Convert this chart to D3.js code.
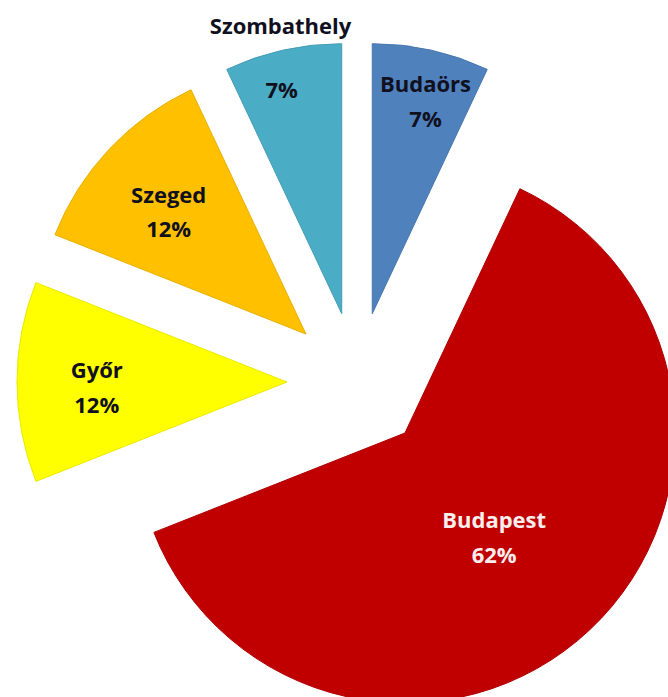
<!DOCTYPE html>
<html>
<head>
<meta charset="utf-8">
<script src="https://cdn.jsdelivr.net/npm/d3@7"></script>
<style>
  html, body { margin: 0; padding: 0; background: #fff; }
  svg { display: block; }
  .lbl { font-family: "Open Sans", "Noto Sans", sans-serif; font-weight: 700; font-size: 22px; }
</style>
</head>
<body>
<div id="chart"></div>
<script>
// data
const cities = ["Budaörs", "Budapest", "Győr", "Szeged", "Szombathely"];
const shares = [7, 62, 12, 12, 7];

const sliceColors = ["#4F81BD", "#C00000", "#FFFF00", "#FFC000", "#4BACC6"];
const textColors  = ["#10101e", "#fbeeee", "#10101e", "#10101e", "#10101e"];

// label spot: fraction of radius along bisector, plus small angle nudge (deg)
const labelSpot = [
  {k: 0.81, da: 1.5},
  {k: 0.51, da: 2.8},
  {k: 0.705, da: -1.75},
  {k: 0.68, da: -1.6},
  {k: 0.856, da: -2.45}
];
// names that sit outside the slice instead of inside
const outsideName = {"Szombathely": {k: 1.09, da: 0.6}};

const width = 668, height = 697;
const cx = 357, cy = 382;
const radius = 270, explode = 70;
const lineGap = 34.5;

const svg = d3.select("#chart").append("svg")
  .attr("width", width)
  .attr("height", height);

const pie = d3.pie().sort(null).value(d => d.value);
const arc = d3.arc().innerRadius(0).outerRadius(radius);

const data = cities.map((c, i) => ({name: c, value: shares[i], i: i}));
const arcs = pie(data);

const polar = (a, r) => [r * Math.sin(a), -r * Math.cos(a)];

const g = svg.append("g").attr("transform", `translate(${cx},${cy})`);

const slice = g.selectAll("g.slice")
  .data(arcs)
  .enter().append("g")
  .attr("class", "slice")
  .attr("transform", d => {
    const mid = (d.startAngle + d.endAngle) / 2;
    const [dx, dy] = polar(mid, explode);
    return `translate(${dx},${dy})`;
  });

slice.append("path")
  .attr("d", arc)
  .attr("fill", d => sliceColors[d.data.i])
  .attr("stroke", d => d3.color(sliceColors[d.data.i]).darker(0.25))
  .attr("stroke-width", 1);

slice.each(function(d) {
  const sel = d3.select(this);
  const mid = (d.startAngle + d.endAngle) / 2;
  const spot = labelSpot[d.data.i];
  const [lx, ly] = polar(mid + spot.da * Math.PI / 180, spot.k * radius);
  const fill = textColors[d.data.i];
  const pct = d.data.value + "%";
  const out = outsideName[d.data.name];

  if (out) {
    const [nx, ny] = polar(mid + out.da * Math.PI / 180, out.k * radius);
    sel.append("text").attr("class", "lbl")
      .attr("x", nx).attr("y", ny + 7.75)
      .attr("text-anchor", "middle").attr("fill", "#10101e")
      .text(d.data.name);
    sel.append("text").attr("class", "lbl")
      .attr("x", lx).attr("y", ly + 7.75)
      .attr("text-anchor", "middle").attr("fill", fill)
      .text(pct);
  } else {
    sel.append("text").attr("class", "lbl")
      .attr("x", lx).attr("y", ly - 9.5)
      .attr("text-anchor", "middle").attr("fill", fill)
      .text(d.data.name);
    sel.append("text").attr("class", "lbl")
      .attr("x", lx).attr("y", ly - 9.5 + lineGap)
      .attr("text-anchor", "middle").attr("fill", fill)
      .text(pct);
  }
});
</script>
</body>
</html>
